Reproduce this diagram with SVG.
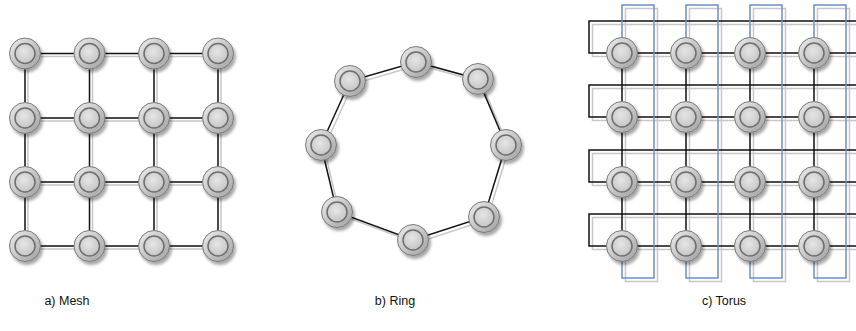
<svg xmlns="http://www.w3.org/2000/svg" width="856" height="331" viewBox="0 0 856 331">
<style>
.e{fill:none;stroke:#111;stroke-width:1.5}
.s{fill:none;stroke:#c8c8c8;stroke-width:1.5}
.b{fill:none;stroke:#6a8fc7;stroke-width:1.5}
.lbl{font-family:"Liberation Sans",Arial,sans-serif;font-size:12.5px;fill:#111;text-anchor:middle}
</style>
<defs>
<linearGradient id="og" x1="0" y1="0" x2="1" y2="1">
<stop offset="0" stop-color="#eeeeee"/><stop offset="1" stop-color="#a0a0a0"/>
</linearGradient>
<radialGradient id="ig" cx="0.45" cy="0.4" r="0.7">
<stop offset="0" stop-color="#e6e6e6"/><stop offset="1" stop-color="#c0c0c0"/>
</radialGradient>
<filter id="sh" x="-50%" y="-50%" width="200%" height="200%">
<feDropShadow dx="2" dy="3" stdDeviation="1.8" flood-color="#000" flood-opacity="0.35"/>
</filter>
<g id="node">
<circle r="15.5" fill="url(#og)" stroke="#7a7a7a" stroke-width="1" filter="url(#sh)"/>
<circle r="10" fill="url(#ig)" stroke="#6e6e6e" stroke-width="1.5"/>
</g>
</defs>
<rect width="856" height="331" fill="#fff"/>

<g id="connectors">
<g class="s" transform="translate(3,3)">
<path d="M25,53.5H218M25,118H218M25,182H218M25,246H218M25,53.5V246M89.5,53.5V246M154,53.5V246M218,53.5V246"/>
</g>
<g class="e">
<path d="M25,53.5H218M25,118H218M25,182H218M25,246H218M25,53.5V246M89.5,53.5V246M154,53.5V246M218,53.5V246"/>
</g>
<g class="s" transform="translate(3,3)">
<path d="M416,62L478,79L506,145L484,217L413,240L337,212L321,145L350,81Z"/>
</g>
<g class="e">
<path d="M416,62L478,79L506,145L484,217L413,240L337,212L321,145L350,81Z"/>
</g>
<g class="s" transform="translate(3.5,3.5)">
<path d="M870,53H589V21H870M870,117H589V85H870M870,182H589V150H870M870,246H589V214H870"/>
<path d="M622,53V246M686,53V246M750,53V246M814,53V246"/>
<path d="M622,53V5H654V278H622V246M686,53V5H718V278H686V246M750,53V5H782V278H750V246M814,53V5H846V278H814V246"/>
</g>
<g class="e">
<path d="M870,53H589V21H870M870,117H589V85H870M870,182H589V150H870M870,246H589V214H870"/>
<path d="M622,53V246M686,53V246M750,53V246M814,53V246"/>
</g>
<g class="b">
<path d="M622,53V5H654V278H622V246M686,53V5H718V278H686V246M750,53V5H782V278H750V246M814,53V5H846V278H814V246"/>
</g>
</g>

<g id="mesh">
<g id="m00"><use href="#node" x="25" y="53.5"/></g>
<g id="m01"><use href="#node" x="89.5" y="53.5"/></g>
<g id="m02"><use href="#node" x="154" y="53.5"/></g>
<g id="m03"><use href="#node" x="218" y="53.5"/></g>
<g id="m10"><use href="#node" x="25" y="118"/></g>
<g id="m11"><use href="#node" x="89.5" y="118"/></g>
<g id="m12"><use href="#node" x="154" y="118"/></g>
<g id="m13"><use href="#node" x="218" y="118"/></g>
<g id="m20"><use href="#node" x="25" y="182"/></g>
<g id="m21"><use href="#node" x="89.5" y="182"/></g>
<g id="m22"><use href="#node" x="154" y="182"/></g>
<g id="m23"><use href="#node" x="218" y="182"/></g>
<g id="m30"><use href="#node" x="25" y="246"/></g>
<g id="m31"><use href="#node" x="89.5" y="246"/></g>
<g id="m32"><use href="#node" x="154" y="246"/></g>
<g id="m33"><use href="#node" x="218" y="246"/></g>
</g>

<g id="ring">
<g id="r0"><use href="#node" x="416" y="62"/></g>
<g id="r1"><use href="#node" x="478" y="79"/></g>
<g id="r2"><use href="#node" x="506" y="145"/></g>
<g id="r3"><use href="#node" x="484" y="217"/></g>
<g id="r4"><use href="#node" x="413" y="240"/></g>
<g id="r5"><use href="#node" x="337" y="212"/></g>
<g id="r6"><use href="#node" x="321" y="145"/></g>
<g id="r7"><use href="#node" x="350" y="81"/></g>
</g>

<g id="torus">
<g id="t00"><use href="#node" x="622" y="53"/></g>
<g id="t01"><use href="#node" x="686" y="53"/></g>
<g id="t02"><use href="#node" x="750" y="53"/></g>
<g id="t03"><use href="#node" x="814" y="53"/></g>
<g id="t10"><use href="#node" x="622" y="117"/></g>
<g id="t11"><use href="#node" x="686" y="117"/></g>
<g id="t12"><use href="#node" x="750" y="117"/></g>
<g id="t13"><use href="#node" x="814" y="117"/></g>
<g id="t20"><use href="#node" x="622" y="182"/></g>
<g id="t21"><use href="#node" x="686" y="182"/></g>
<g id="t22"><use href="#node" x="750" y="182"/></g>
<g id="t23"><use href="#node" x="814" y="182"/></g>
<g id="t30"><use href="#node" x="622" y="246"/></g>
<g id="t31"><use href="#node" x="686" y="246"/></g>
<g id="t32"><use href="#node" x="750" y="246"/></g>
<g id="t33"><use href="#node" x="814" y="246"/></g>
</g>

<g id="labels">
<text class="lbl" x="67" y="305">a) Mesh</text>
<text class="lbl" x="395" y="305">b) Ring</text>
<text class="lbl" x="724" y="305">c) Torus</text>
</g>
</svg>
